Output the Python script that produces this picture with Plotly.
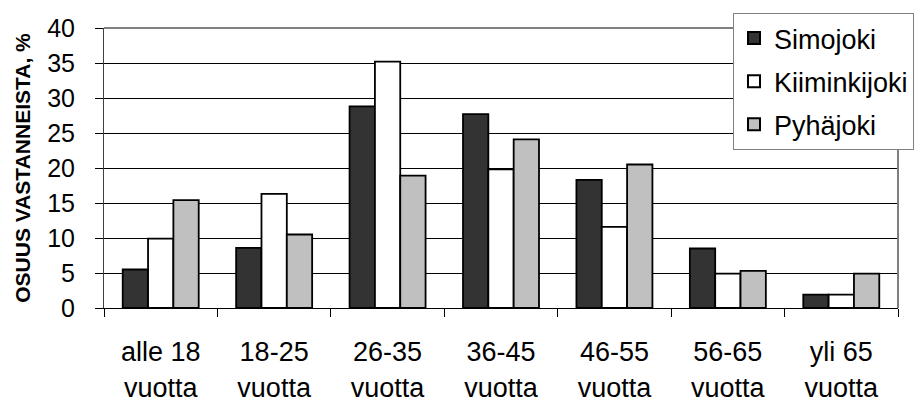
import plotly.graph_objects as go

categories = ["alle 18<br>vuotta", "18-25<br>vuotta", "26-35<br>vuotta", "36-45<br>vuotta",
              "46-55<br>vuotta", "56-65<br>vuotta", "yli 65<br>vuotta"]
simojoki = [5.5, 8.6, 28.8, 27.7, 18.3, 8.5, 1.9]
kiiminkijoki = [9.9, 16.3, 35.2, 19.8, 11.6, 4.9, 1.9]
pyhajoki = [15.4, 10.5, 18.9, 24.1, 20.5, 5.3, 4.9]
series_names = ["Simojoki", "Kiiminkijoki", "Pyhäjoki"]
series_colors = ["#333333", "#ffffff", "#c0c0c0"]
y_ticks = [0, 5, 10, 15, 20, 25, 30, 35, 40]

FONT = "Liberation Sans, Arial, Helvetica, sans-serif"

fig = go.Figure()
for name, vals, col in zip(series_names, [simojoki, kiiminkijoki, pyhajoki], series_colors):
    fig.add_trace(go.Bar(
        x=categories, y=vals, name=name, legendgroup=name,
        marker=dict(color=col, line=dict(color="#000000", width=1.8)),
    ))

fig.update_layout(
    width=915, height=401,
    margin=dict(l=104, r=17, t=28, b=93, autoexpand=False),
    paper_bgcolor="white", plot_bgcolor="white",
    barmode="group", bargap=0.33, bargroupgap=0,
    font=dict(family=FONT, color="#000000"),
    legend=dict(
        x=(733 - 104) / 794, xanchor="left",
        y=(308 - 13) / 280, yanchor="top",
        bgcolor="white", bordercolor="#808080", borderwidth=1,
        font=dict(family=FONT, size=27, color="#000000"),
        tracegroupgap=5, itemsizing="constant",
    ),
    showlegend=True,
)

fig.update_xaxes(
    type="category", tickson="boundaries",
    ticks="outside", ticklen=8, tickcolor="#000000", tickwidth=1,
    showline=True, linecolor="#000000", linewidth=1,
    showgrid=False,
    tickfont=dict(family=FONT, size=27, color="#000000"),
    ticklabelstandoff=20,
)
fig.update_yaxes(
    range=[0, 40], tickvals=y_ticks,
    ticks="outside", ticklen=8, tickcolor="#000000", tickwidth=1,
    showline=True, linecolor="#404040", linewidth=1,
    showgrid=True, gridcolor="#000000", gridwidth=1,
    zeroline=False,
    tickfont=dict(family=FONT, size=25, color="#000000"),
    ticklabelstandoff=15,
    title=dict(text="<b>OSUUS VASTANNEISTA, %</b>",
               font=dict(family=FONT, size=21, color="#000000"), standoff=10),
)

# gray plot frame on top and right
fig.add_shape(type="line", xref="paper", yref="paper", x0=0, x1=1, y0=1, y1=1,
              line=dict(color="#808080", width=2), layer="above")
fig.add_shape(type="line", xref="paper", yref="paper", x0=1, x1=1, y0=0, y1=1,
              line=dict(color="#808080", width=2), layer="above")

fig.write_html(
    "out.html",
    config={"displayModeBar": False},
    post_script="document.body.style.margin='0';document.body.style.overflow='hidden';",
)
